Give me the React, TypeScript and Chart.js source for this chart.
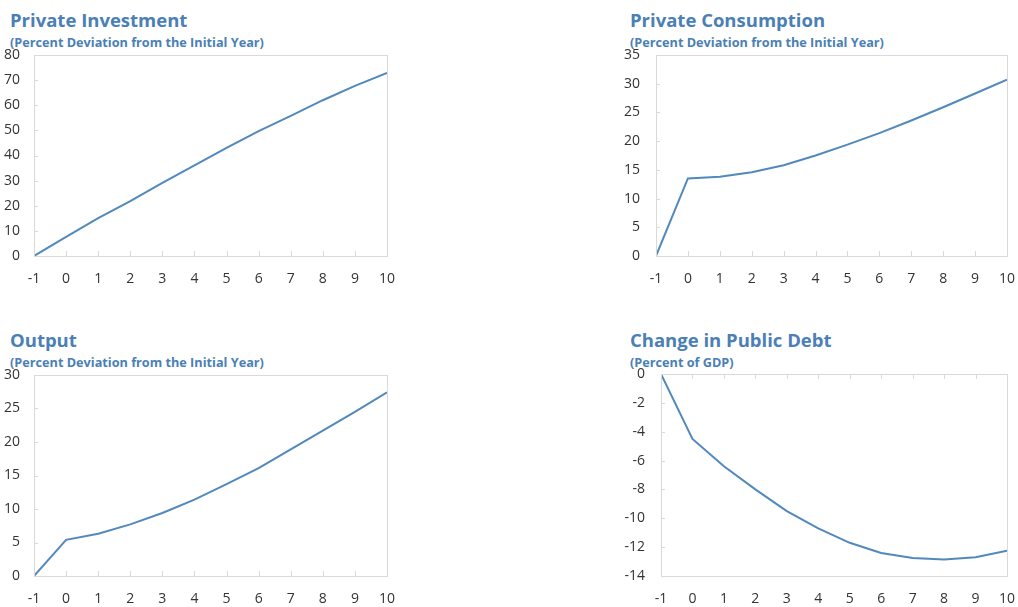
import React, { useEffect, useRef } from "react";
import { Chart, registerables } from "chart.js";
Chart.register(...registerables);

// ---- Data ----
const years = [-1, 0, 1, 2, 3, 4, 5, 6, 7, 8, 9, 10];
const privateInvestment = [0, 7.6, 15.1, 21.8, 29.1, 36.1, 43.0, 49.7, 55.8, 62.0, 67.7, 72.9];
const privateConsumption = [0, 13.5, 13.8, 14.6, 15.8, 17.5, 19.4, 21.4, 23.6, 25.9, 28.3, 30.7];
const output = [0, 5.4, 6.3, 7.7, 9.4, 11.4, 13.7, 16.1, 18.9, 21.7, 24.5, 27.4];
const publicDebt = [0, -4.5, -6.4, -8.0, -9.5, -10.7, -11.7, -12.4, -12.75, -12.85, -12.7, -12.25];

const titles = ["Private Investment", "Private Consumption", "Output", "Change in Public Debt"];
const subtitles = [
  "(Percent Deviation from the Initial Year)",
  "(Percent Deviation from the Initial Year)",
  "(Percent Deviation from the Initial Year)",
  "(Percent of GDP)",
];
const yRanges = [
  { min: 0, max: 80, step: 10 },
  { min: 0, max: 35, step: 5 },
  { min: 0, max: 30, step: 5 },
  { min: -14, max: 0, step: 2 },
];

const TITLE_COLOR = "#4a80b6";
const LINE_COLOR = "#5289bc";
const BOX_COLOR = "#d9d9d9";
const FONT = "'Open Sans', 'DejaVu Sans', sans-serif";

// ---- layout of panels (page pixels) ----
const panels = [
  { series: privateInvestment, left: 0, top: 40, w: 400, h: 265, yw: 34, pr: 13, pt: 15, pb: 19, yPad: 14, titleTop: 10 },
  { series: privateConsumption, left: 620, top: 40, w: 398, h: 265, yw: 36, pr: 11, pt: 15, pb: 19, yPad: 16, titleTop: 10 },
  { series: output, left: 0, top: 360, w: 400, h: 247, yw: 34, pr: 13, pt: 15, pb: 1, yPad: 14, titleTop: 330 },
  { series: publicDebt, left: 620, top: 360, w: 398, h: 247, yw: 41, pr: 11, pt: 14, pb: 1, yPad: 16, titleTop: 330 },
];

const boxAndTicks = {
  id: "boxAndTicks",
  afterDatasetsDraw(chart: any) {
    const { ctx, chartArea } = chart;
    const xs = chart.scales.x;
    const ys = chart.scales.y;
    ctx.save();
    ctx.strokeStyle = BOX_COLOR;
    ctx.lineWidth = 1;
    ctx.strokeRect(
      Math.round(chartArea.left) + 0.5,
      Math.round(chartArea.top) + 0.5,
      Math.round(chartArea.right - chartArea.left),
      Math.round(chartArea.bottom - chartArea.top)
    );
    // horizontal axis crosses at 0
    const zeroY = Math.round(ys.getPixelForValue(0));
    const atTop = zeroY <= chartArea.top + 1;
    ctx.beginPath();
    xs.ticks.forEach((t: any) => {
      const px = Math.round(xs.getPixelForValue(t.value)) + 0.5;
      if (atTop) {
        ctx.moveTo(px, zeroY);
        ctx.lineTo(px, zeroY + 5);
      } else {
        ctx.moveTo(px, zeroY);
        ctx.lineTo(px, zeroY - 5);
      }
    });
    ys.ticks.forEach((t: any) => {
      const py = Math.round(ys.getPixelForValue(t.value)) + 0.5;
      ctx.moveTo(chartArea.left, py);
      ctx.lineTo(chartArea.left + 4, py);
    });
    ctx.stroke();
    ctx.restore();
  },
};

function Panel({ idx }: { idx: number }) {
  const ref = useRef<HTMLCanvasElement | null>(null);
  const p = panels[idx];
  useEffect(() => {
    if (!ref.current) return;
    const r = yRanges[idx];
    const chart = new Chart(ref.current, {
      type: "line",
      data: {
        datasets: [
          {
            data: years.map((x, i) => ({ x, y: p.series[i] })),
            borderColor: LINE_COLOR,
            borderWidth: 2,
            pointRadius: 0,
            tension: 0,
            fill: false,
          },
        ],
      },
      options: {
        animation: false,
        responsive: false,
        maintainAspectRatio: false,
        layout: { padding: { left: 0, right: p.pr, top: p.pt, bottom: p.pb } },
        plugins: { legend: { display: false }, tooltip: { enabled: false }, title: { display: false } },
        scales: {
          x: {
            type: "linear",
            min: -1,
            max: 10,
            afterFit: (s: any) => {
              s.height = 30;
              s.paddingLeft = 0;
              s.paddingRight = 0;
            },
            grid: { display: false, drawTicks: false },
            border: { display: false },
            ticks: {
              stepSize: 1,
              autoSkip: false,
              maxRotation: 0,
              padding: 15,
              color: "#333333",
              font: { family: FONT, size: 14 },
            },
          },
          y: {
            type: "linear",
            min: r.min,
            max: r.max,
            afterFit: (s: any) => {
              s.width = p.yw;
              s.paddingTop = 0;
              s.paddingBottom = 0;
            },
            grid: { display: false, drawTicks: false },
            border: { display: false },
            ticks: {
              stepSize: r.step,
              padding: p.yPad,
              color: "#333333",
              font: { family: FONT, size: 14 },
            },
          },
        },
      } as any,
      plugins: [boxAndTicks],
    });
    return () => chart.destroy();
  }, []);
  return (
    <>
      <div
        style={{
          position: "absolute",
          left: p.left + 10,
          top: p.titleTop,
          fontFamily: FONT,
          fontWeight: 700,
          fontSize: 18.5,
          lineHeight: "19px",
          color: TITLE_COLOR,
          whiteSpace: "nowrap",
        }}
      >
        {titles[idx]}
      </div>
      <div
        style={{
          position: "absolute",
          left: p.left + 10,
          top: p.titleTop + 26,
          fontFamily: FONT,
          fontWeight: 700,
          fontSize: 12.7,
          lineHeight: "13px",
          color: TITLE_COLOR,
          whiteSpace: "nowrap",
        }}
      >
        {subtitles[idx]}
      </div>
      <canvas
        ref={ref}
        width={p.w}
        height={p.h}
        style={{ position: "absolute", left: p.left, top: p.top, width: p.w, height: p.h }}
      />
    </>
  );
}

export default function App() {
  useEffect(() => {
    document.body.style.margin = "0";
    document.body.style.overflow = "hidden";
  }, []);
  return (
    <div style={{ position: "relative", width: 1018, height: 607, overflow: "hidden", background: "#ffffff" }}>
      {panels.map((_, i) => (
        <Panel key={i} idx={i} />
      ))}
    </div>
  );
}
